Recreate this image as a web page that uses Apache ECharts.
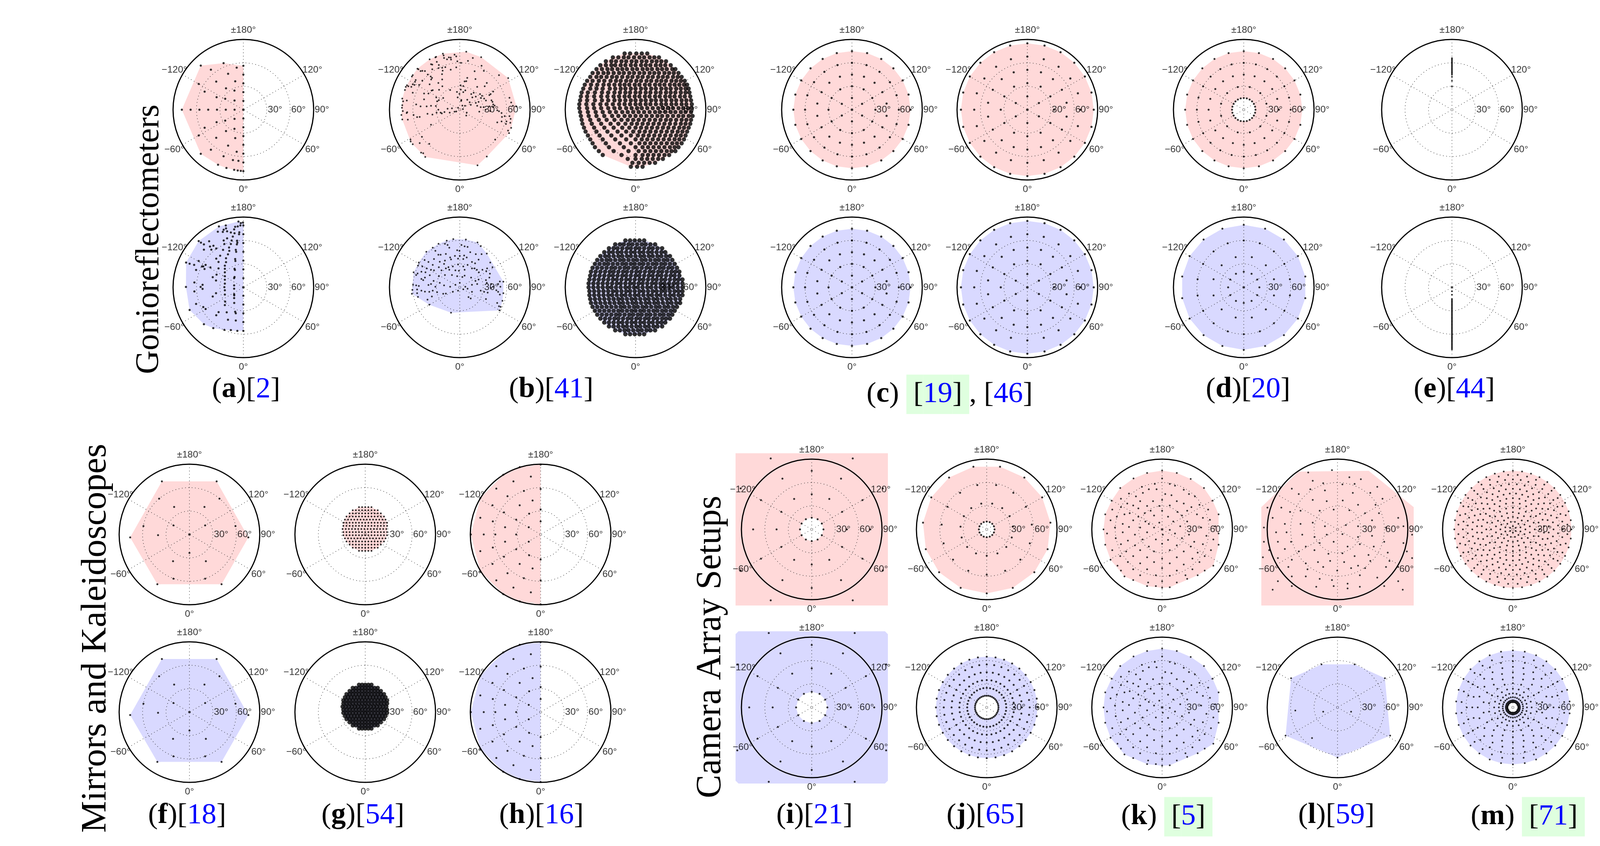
<!DOCTYPE html>
<html><head><meta charset="utf-8">
<script src="https://cdn.jsdelivr.net/npm/echarts@6/dist/echarts.min.js"></script>
<style>html,body{margin:0;padding:0;background:#fff}#c{width:4261px;height:2167px}</style>
</head><body><div id="c"></div>
<script>
// ---------- azimuth lists (degrees) ----------
const AZ60=[0,60,120,180,240,300];
const AZ30=[0,30,60,90,120,150,180,210,240,270,300,330];
const AZ30h=[15,45,75,105,135,165,195,225,255,285,315,345];
const AZ22=[0,22.5,45,67.5,90,112.5,135,157.5,180,202.5,225,247.5,270,292.5,315,337.5];
const AZ24=[0,24,48,72,96,120,144,168,192,216,240,264,288,312,336];
const AZ20=[0,20,40,60,80,100,120,140,160,180,200,220,240,260,280,300,320,340];
const AZ18=[0,18,36,54,72,90,108,126,144,162,180,198,216,234,252,270,288,306,324,342];
const AZ15=[0,15,30,45,60,75,90,105,120,135,150,165,180,195,210,225,240,255,270,285,300,315,330,345];
const AZ12=[0,12,24,36,48,60,72,84,96,108,120,132,144,156,168,180,192,204,216,228,240,252,264,276,288,300,312,324,336,348];
const AZ10=[0,10,20,30,40,50,60,70,80,90,100,110,120,130,140,150,160,170,180,190,200,210,220,230,240,250,260,270,280,290,300,310,320,330,340,350];
const AZ10h=[5,15,25,35,45,55,65,75,85,95,105,115,125,135,145,155,165,175,185,195,205,215,225,235,245,255,265,275,285,295,305,315,325,335,345,355];
const AZ9=[0,9,18,27,36,45,54,63,72,81,90,99,108,117,126,135,144,153,162,171,180,189,198,207,216,225,234,243,252,261,270,279,288,297,306,315,324,333,342,351];
const AZ_NO_AXES=[30,60,120,150,210,240,300,330];

// ---------- tick labels ----------
const ANGLE_TICKS=[[-180,'±180°'],[-120,'−120°'],[-60,'−60°'],[0,'0°'],[60,'60°'],[120,'120°']];
const RADIUS_TICKS=[[30,'30°'],[60,'60°'],[90,'90°']];

// ---------- data: polar [elevation, azimuth] ----------
const aTopPolar=[[0,0],[11.25,180],[22.5,180],[33.75,180],[45,180],[56.25,180],
[11.25,0],[22.5,0],[33.75,0],[45,0],[56.25,0],[67.5,0],[78.75,0],
[11.25,-90],[22.5,-90],[33.75,-90],[45,-90],[56.25,-90],[67.5,-90],[78.75,-90],
[78.5,-136],[64.8,-157],[54.6,-171],[66,-141],[50,-157],[50,-136],[37.8,-164],[66,-120],[35.3,-141],[27,-155],[54.7,-115],[37.8,-115],[27.1,-121],[16.3,-136],
[78.5,-44],[64.8,-23],[54.6,-9],[66,-39],[50,-23],[50,-44],[37.8,-16],[66,-60],[35.3,-39],[27,-25],[54.7,-65],[37.8,-65],[27.1,-59],[16.3,-44],
[65.9,-11.7],[65.8,-5.5],[77.6,-24.7],[77.7,-16.2],[77.9,-8.7],[78.2,-5.3],[78.4,-2.4]];

// ---------- data: projected [x°, y°] (x right, y up; radius = elevation) ----------
const aBotXY=[[0,79.3],[0,68],[0,56.7],[0,45.5],[0,34.3],[0,23],[0,11.8],[0,0],[0,-10.7],[0,-22],[0,-33.2],[0,-44.5],[0,-55.7],[-0.5,83],
[-6.3,84.3],[-3.3,82.2],[-3.8,79.3],[-7.2,78],[-10.5,77.5],[-11.8,74.3],[-5.2,70.5],[-5.5,68],[-11.3,69.2],[-13.5,65],[-8,59.7],[-7.7,57.2],[-8.3,55],[-9.7,48],[-9.2,45.5],[-10.5,36.3],[-10.2,33.8],[-11.3,23.8],[-10.8,22.2],[-11.3,13.3],[-11.8,11.7],[-11.8,2.5],[-11.8,-1.7],[-11.8,-8.7],[-11.7,-10.3],[-11.8,-13.7],[-11.7,-20],[-10.5,-31.2],[-9.7,-33.3],[-9.7,-42.5],
[-23.7,27.7],[-23.7,23.8],[-23.7,19.3],[-23.7,14.3],[-23.7,9.7],[-23.7,4.7],[-24.3,0.2],[-23.7,-3.7],[-23.7,-9.2],[-23.3,-18.3],[-23.7,-22.8],[-21.3,-32],[-19.7,-41.5],[-22.2,32.2],[-22.2,37.2],[-19.7,42.2],[-18,46.7],[-18.3,51],[-20.8,62.7],[-25.2,60],[-24.3,55.5],[-16,55.5],[-15,60],
[-31.3,78],[-22.5,79.3],[-25.2,73.8],[-22.2,75.5],[-32.7,71.3],[-26.3,71],[-20.8,71.8],[-16,70.2],[-43.8,59],[-57.2,59.2],[-54.3,57.2],[-50.5,55],[-42.7,52.2],[-38.3,53.3],[-50.5,48.3],[-41,48.3],[-34.7,49.7],[-26,48],[-29.7,40.5],[-34.7,36.8],[-31.8,32.5],[-57.2,33.8],[-73.3,31.7],[-68.8,30.2],[-63,28.8],[-53,26.8],[-51.3,26.8],[-48.3,28.8],[-49.7,23.5],[-60.5,22.2],[-42.2,25.5],[-31.8,24.3],[-34.3,16.3],[-39.2,13],[-35,8.8],[-62.7,6.3],[-52.2,3.3],[-54.7,0.5],[-73.5,0.5],[-52.2,-2],[-62.7,-5.3],[-35,-7.5],[-39.2,-11.7],[-60.5,-21.2],[-51.3,-25.3],[-48.3,-27.8],[-68.8,-29],[-31.7,-31.7],[-34.7,-35.8],[-50.5,-47.3],[-38.5,-52.3],[-24.3,-54.5],[-16,-54.8],[-7.7,-55.7]];

const b1TopXY=[[8.3,74.2],[-21.6,71.7],[-6.7,70.5],[-4.5,68.3],[10.5,62.5],[16.7,66.2],[27.4,67.2],[-30.3,67.8],[-31.2,67],[-20.7,69.5],[-20.1,66.2],[-16.3,64.5],[-14,67],[-11.6,66.7],[-11.2,64.2],[-38.6,64.5],[-29.4,61.3],[-36.8,58.3],[-35.2,57.8],[-26.8,57.2],[-3.1,62],[1.6,60],[27.9,56.2],[-27.2,53.3],[-22.5,53.8],[-18.5,54.5],[-4.5,54.2],[-11.6,51.2],[-54.2,52.5],[-52.9,51.7],[-50.2,49.5],[-47.9,49.7],[-44.6,49.5],[-35.2,51.7],[-41,45],[-37.2,42.5],[-21.9,50],[-22.7,45.5],[19,49.2],[30.8,49.7],[9.6,40.8],[20.1,39.2],[50.2,44.2],[62,40.5],[-60.2,44.2],[-61.3,42.5],[-56.4,38],[-57.3,35.8],[-60.2,32.5],[-47.9,37.2],[-38.6,32.5],[-27.4,34.3],[-22.5,38.8],[-36.6,38.7],[-35.5,40.8],[-22.3,30],[-36.1,24.5],[-26.5,25.5],[-12.3,25.3],[-3.6,22.8],[1.1,31.3],[4.5,30.3],[6.2,36.3],[8.3,36.5],[1.3,25.7],[4.5,22.5],[7.1,24.7],[-0.4,20.3],[-2.7,15.8],[2,12.5],[1.8,11.2],[9.6,12.8],[14.7,20],[17.8,21.7],[16.1,15.8],[20.5,16.7],[22.3,29.2],[31.9,30],[34.6,34.2],[42.8,23.3],[37.9,18.7],[39.5,20],[25.9,20],[28.5,17.8],[27.2,15],[31.2,14.2],[33.5,11.7],[40.6,12],[41.9,10],[42.8,6.7],[44.6,5.3],[24.1,10],[20.5,8.7],[12.7,9.5],[14.1,6.3],[6.7,5],[22.3,5],[26.8,3.3],[30.6,3.3],[37.9,4.2],[42.4,3.3],[-67.6,31.2],[-69.1,29.2],[-65.8,30],[-70.2,25.3],[-62,29.2],[-60.2,21.7],[-58,31.7],[-52,31.7],[-45.7,20.8],[-40.1,20.8],[-34.6,25],[-30.1,15.8],[-21.2,15],[-26.8,12.2],[-29,10.8],[-67.8,11.7],[-73.6,14.2],[-72.5,10.8],[-73.6,5.8],[-74,2.5],[-72.9,-1.7],[-74.7,-6.7],[-73.6,-12.5],[-68,-4.2],[-67.3,-3.3],[-66.5,-12.8],[-59.1,-6.7],[-55.8,6.7],[-50.2,4.2],[-42.4,4.2],[-36.8,5],[-30.6,4.7],[-45.7,13.3],[-41.3,-5.3],[-35,-6.2],[-29.7,-3.8],[-27.4,0],[-24.5,-3.7],[-23,-4.7],[-19.6,-3],[-15.6,1.3],[-12.9,-3.7],[-10,1.7],[-6.7,-2.5],[-4.5,-2.2],[4,0.8],[8.9,-3.7],[8.3,-7.5],[3.3,5.3],[-2.2,2.5],[25,-2.5],[33,0],[39,-1.7],[48,-0.8],[50.2,-2],[53.5,-4.2],[54,-9.2],[57.5,-8.3],[59.8,-15],[63.6,-8.3],[65.1,-11.7],[48,-16.3],[53.5,-15],[59.1,-18.3],[64.7,-16.7],[63.1,-30],[61.8,-26.7],[65.8,-23.3],[65.8,9.2],[63.6,15.3],[68,5],[72.5,4.2],[-36.8,-19.2],[-48.4,-34.7],[-51.3,-42.8],[-39,-43.7],[-63.1,-38.3],[-62.9,-40.8],[-60.2,-44.2],[-49.5,-55],[-46.8,-55.8],[-44.2,-60.5],[45.3,-38.3],[34.6,-60],[22.7,-71.3],[-54.6,-9.5],[-51.3,-9.2]];

const b1BotXY=[[-8.3,61.7],[7.8,61.2],[-16.7,59.7],[22.7,57.5],[26.8,52.8],[-27.2,55.8],[-19,55.8],[-15.6,54.2],[-13.4,50.8],[2.2,54.2],[6.2,52.5],[10,51.7],[-3.3,47.5],[-0.4,46.7],[-34.6,50.8],[-31.2,46.7],[-42.8,45.5],[-27.4,41.7],[-24.5,41.7],[-17.8,42.8],[-12.3,38.3],[-6.2,40.3],[0,40.3],[5.6,40.8],[8.9,38.3],[13.4,45],[20.5,42.5],[27.9,42.5],[34.6,43.3],[-45,35],[-40.1,32.5],[-33,36.2],[-25.6,32.8],[-19,34.2],[-11.2,35.8],[-2.2,36.7],[4.5,36.2],[15.6,32.5],[19.6,30.8],[24.1,35.5],[39,31.7],[-52.4,31.7],[-53.5,27.8],[-47.9,26.7],[-42.4,24.2],[-34.6,28.8],[-26.8,25.8],[-20.1,30],[-14.5,25.8],[-8.9,26.7],[-2.2,29.2],[4.5,26.7],[10,28.8],[19,24.2],[21.9,22.5],[29,22.5],[35,24.2],[41.9,25.8],[-59.1,19.2],[-54,17.8],[-49.1,20],[-43.9,19.2],[-36.8,22.5],[-33,21.7],[-23.4,21.7],[-17.8,24.2],[-13.4,22.5],[-5.6,21.7],[-1.1,21.2],[6.2,22.5],[15.6,24.2],[24.5,19.2],[33.9,20.8],[38.6,17.5],[-55.8,15.8],[-49.1,10.8],[-44.6,12.5],[-38.4,15.5],[-33.5,8.3],[-26.8,14.2],[-19,15.8],[-10,15.8],[-3.3,14.2],[3.3,13.3],[6.2,15],[14.5,12.5],[20.1,8.3],[24.1,10],[33.5,9.2],[37.9,12.5],[51.3,7.5],[55.8,7.2],[-59.8,3.3],[-55.8,2.5],[-52.4,1.7],[-46.8,9.2],[-40.1,3],[-36.8,4.2],[-31.2,0.8],[-25.6,5.8],[-20.1,2.5],[-12.3,0.8],[-5.6,3.3],[0,5.8],[7.1,0.8],[15.6,3.3],[22.3,4.2],[34.6,5.8],[40.1,4.2],[49.1,4.2],[52,0.8],[-60.7,-3.3],[-54.6,-2.8],[-49.1,-4.2],[-44.6,-5.5],[-39,-5.8],[-34.6,-4.2],[-29,-6.2],[-21.2,-8.3],[-17.8,-8],[-8.9,-5.8],[-2.2,-4.2],[4.5,-2.5],[10,-1.7],[15.6,-5.8],[26.8,-4.2],[31.2,-5.8],[46.8,-3.8],[49.1,-5.8],[51.3,-9.2],[55.8,-7.5],[-61.3,-8.3],[-54.6,-7.5],[-53.5,-12.2],[-35.7,-11.7],[-41.3,-15.8],[-39,-22.2],[-11.2,-32.5],[11.2,-12.5],[14,-14.2],[33.5,-15],[47.9,-20],[50.2,-24.2],[52.4,-25],[54.6,-17.2],[35.7,-6.7],[40.1,-0.8],[42.4,0.8],[50.8,-29.5]];

// dense samples, read row by row: [y°, [x° ...]]
const b2TopRows=[[72,[-14,-7,1,8,15]],[67,[-29,-22,-15,-9,-2,5,11,18,24,30]],[62,[-38,-31,-25,-18,-12,-5,1,8,14,21,27,33,39]],[57,[-45,-38,-31,-26,-19,-13,-6,0,7,13,19,26,32,38,45]],[52,[-50,-43,-36,-30,-23,-17,-11,-4,2,9,15,21,28,34,40,47,51]],[47,[-55,-48,-41,-35,-28,-21,-15,-8,-2,5,11,18,24,30,37,43,49,55]],[42,[-58,-50,-44,-37,-30,-24,-17,-10,-4,3,9,16,22,29,35,41,48,54,59]],[37,[-62,-55,-47,-40,-32,-25,-19,-12,-6,1,7,14,20,27,33,39,46,52,58,63]],[32,[-65,-57,-49,-41,-34,-27,-20,-14,-8,-1,5,12,18,25,31,37,44,50,56,62,66]],[27,[-67,-58,-50,-42,-33,-26,-19,-13,-6,0,7,13,20,26,33,39,45,52,58,64,68]],[22,[-69,-61,-52,-43,-35,-27,-20,-13,-7,0,6,13,19,26,32,39,45,51,58,64,69]],[17,[-70,-62,-53,-44,-36,-28,-21,-14,-8,-1,5,12,18,25,31,38,44,50,57,63,70]],[12,[-71,-62,-52,-43,-35,-27,-20,-13,-6,0,7,13,20,26,33,39,46,52,59,65,71]],[7,[-72,-63,-54,-45,-37,-29,-21,-14,-7,0,6,13,19,26,33,39,46,52,59,65,72]],[2,[-72,-62,-53,-44,-35,-27,-20,-12,-5,2,8,15,22,29,35,42,48,55,61,67,72]],[-3,[-71,-61,-51,-42,-33,-25,-17,-10,-3,4,11,18,25,31,38,45,51,58,64,71]],[-8,[-70,-60,-50,-40,-30,-22,-14,-7,0,7,14,21,28,34,41,48,55,61,68,73]],[-13,[-69,-58,-47,-37,-27,-18,-10,-3,4,11,18,25,32,39,45,52,59,65,71]],[-18,[-68,-56,-44,-32,-22,-13,-5,2,9,16,23,30,37,44,51,58,64,70]],[-23,[-66,-53,-40,-28,-17,-8,0,7,14,21,28,35,42,49,56,62,68]],[-28,[-64,-50,-36,-23,-12,-3,5,12,19,26,33,40,47,54,60,66]],[-33,[-61,-46,-31,-18,-6,3,10,17,24,31,38,45,52,58,64]],[-38,[-58,-42,-26,-12,0,8,15,22,29,36,43,50,56,62]],[-43,[-55,-38,-20,-6,5,12,19,26,33,40,47,53,59]],[-48,[-52,-34,-15,0,9,16,23,30,37,44,50,55]],[-53,[-47,-28,-9,4,12,19,26,33,40,46,51]],[-58,[-42,-18,0,9,16,23,30,37,43]],[-63,[-10,0,8,15,22,29,35]],[-68,[-4,4,11,18,25]],[-73,[-6,2,9]]];
const b2BotRows=[[60,[-13,-7,-1,5,11]],[55,[-26,-20,-15,-9,-4,2,8,13,19,25]],[50,[-34,-28,-23,-17,-11,-6,0,5,11,17,22,28,34]],[45,[-40,-34,-29,-23,-18,-12,-6,-1,5,10,16,21,27,33,38]],[40,[-45,-39,-34,-28,-22,-17,-11,-6,0,6,11,17,22,28,33,39,44]],[35,[-49,-43,-37,-32,-26,-20,-15,-9,-3,2,8,13,19,25,30,36,41,47]],[30,[-52,-46,-40,-35,-29,-23,-17,-12,-6,-1,5,10,16,22,27,33,38,44,50]],[25,[-55,-49,-43,-37,-31,-26,-20,-14,-9,-3,2,8,14,19,25,31,36,42,47,53]],[20,[-57,-51,-45,-39,-33,-28,-22,-16,-11,-5,1,6,12,18,23,29,34,40,46,51,56]],[15,[-58,-52,-46,-40,-34,-29,-23,-17,-12,-6,0,5,11,17,22,28,33,39,45,50,56]],[10,[-59,-53,-47,-41,-35,-29,-24,-18,-12,-7,-1,5,10,16,22,27,33,38,44,50,55,60]],[5,[-60,-54,-48,-42,-36,-30,-24,-19,-13,-7,-2,4,9,15,21,26,32,37,43,49,54,60]],[0,[-60,-54,-48,-42,-36,-31,-25,-19,-13,-8,-2,3,9,15,20,26,32,37,43,48,54,60]],[-5,[-59,-53,-47,-41,-35,-29,-24,-18,-12,-7,-1,5,10,16,22,27,33,38,44,50,55,60]],[-10,[-59,-53,-47,-41,-35,-30,-24,-18,-13,-7,-1,4,10,16,21,27,32,38,44,49,55,60]],[-15,[-58,-52,-46,-40,-34,-28,-22,-17,-11,-5,0,6,12,17,23,28,34,40,45,51,57]],[-20,[-57,-51,-45,-39,-33,-27,-21,-16,-10,-4,1,7,13,18,24,29,35,41,46,52,57]],[-25,[-55,-49,-43,-37,-31,-25,-19,-14,-8,-2,3,9,14,20,26,31,37,42,48,53]],[-30,[-52,-46,-40,-34,-28,-22,-17,-11,-5,0,6,11,17,23,28,34,39,45,50]],[-35,[-49,-43,-37,-31,-25,-20,-14,-8,-3,3,8,14,19,25,31,36,42,47]],[-40,[-45,-39,-33,-27,-22,-16,-10,-5,1,6,12,17,23,28,34,39,44]],[-45,[-40,-34,-28,-22,-17,-11,-5,0,6,11,17,22,28,33,38]],[-50,[-34,-28,-22,-16,-11,-5,1,6,12,17,23,28,34]],[-55,[-26,-20,-14,-9,-3,3,8,14,19,25]],[-60,[-13,-7,-1,5,11]]];

// rings: [elevation, [azimuths]]
const c1Rings=[[0,[0]],[15,AZ60],[30,AZ30],[45,AZ20],[60,AZ18],[75,AZ15]];
const c2Rings=[[0,[0]],[17,AZ60],[34,AZ30],[51,AZ20],[68,AZ18],[85,AZ15]];
const dTopRings=[[15,AZ15],[30,AZ30h],[45,AZ18],[60,AZ15],[75,AZ15]];
const dBotRings=[[0,[0]],[20,AZ30],[40,AZ30h],[60,AZ20],[80,AZ20]];
const eTopRings=[[29.6,[180]],[37,[180]],[42,[180]],[45,[180]],[46.5,[180]],[48,[180]],[49.5,[180]],[51,[180]],[52.5,[180]],[54,[180]],[55.5,[180]],[57,[180]],[58.5,[180]],[60,[180]],[61.5,[180]],[63,[180]],[64.5,[180]],[66,[180]]];
const eBotElev=[0,5,9.5,15,16.5,18,19.5,21,22.5,24,25.5,27,28.5,30,31.5,33,34.5,36,37.5,39,40.5,42,43.5,45,46.5,48,49.5,51,52.5,54,55.5,57,58.5,60,61.5,63,64.5,66,67.5,69,70.5,72,73.5,75,76.5,78,79.5];

const fXY=[[-35.3,68],[34.8,68],[-38.8,45.9],[38.4,45.9],[-19.6,35.2],[19.2,35.2],[-58.9,10.7],[58.9,10.7],[-20.5,11.6],[20.1,11.6],[-75.9,-3.7],[75.4,-3.7],[-40.2,-0.9],[0,0],[0,-23.6],[-21,-34.3],[21,-34.3],[-20.5,-56.6],[20.1,-56.6],[-41.1,-63.7],[41.1,-63.7]];

const gRows=[[35,[-8,-4,0,4,8]],[31,[-16,-12,-8,-4,0,4,8,12,16]],[27,[-20,-16,-12,-8,-4,0,4,8,12,16,20]],[23,[-24,-20,-16,-12,-8,-4,0,4,8,12,16,20,24]],[19,[-26,-22,-18,-14,-10,-6,-2,2,6,10,14,18,22,26]],[15,[-28,-24,-20,-16,-12,-8,-4,0,4,8,12,16,20,24,28]],[11,[-28,-24,-20,-16,-12,-8,-4,0,4,8,12,16,20,24,28]],[7,[-29,-25,-21,-17,-13,-9,-5,-1,3,7,11,15,19,23,27]],[3,[-28,-24,-20,-16,-12,-8,-4,0,4,8,12,16,20,24,28]],[-1,[-28,-24,-20,-16,-12,-8,-4,0,4,8,12,16,20,24,28]],[-5,[-26,-22,-18,-14,-10,-6,-2,2,6,10,14,18,22,26]],[-9,[-24,-20,-16,-12,-8,-4,0,4,8,12,16,20,24]],[-13,[-20,-16,-12,-8,-4,0,4,8,12,16,20]],[-17,[-16,-12,-8,-4,0,4,8,12,16]],[-21,[-8,-4,0,4,8]]];

const hXY=[[0,89.5],[0,-89.5],[-26.8,86.3],[-12.5,74.1],[-47.8,76.5],[-34.8,68],[-56.7,58.8],[0,58.2],[-21.4,55.7],[-42.4,49],[-77.2,46.8],[-10.3,43.5],[-26.8,37.4],[-61.6,37.4],[0,32.1],[-14.7,26.6],[-46.9,28.2],[-31.3,19],[-77.2,21.4],[-61.2,16.8],[-45.5,9.2],[-15.2,9.2],[0,16.8],[-72.8,0],[-58,0],[-31.3,0],[-89.3,0],[-45.5,-9.2],[-15.2,-9.2],[-61.2,-16.8],[-77.2,-21.4],[-31.3,-19],[-14.7,-26.6],[-46.9,-28.5],[0,-32.1],[-61.6,-37.7],[-26.8,-37.7],[-10.3,-43.5],[-42.4,-49.6],[-77.2,-47.5],[0,-58.8],[-56.7,-58.8],[-21.4,-56],[-34.8,-68],[-47.8,-76.5],[-12.5,-74.1],[-26.8,-85.7]];

const iTopRings=[[15,AZ30],[45,AZ30],[75,AZ30],[105,AZ_NO_AXES]];
const iTopOuter=[[145,AZ30]];
const iBotRings=[[20,AZ30],[50,AZ30],[80,AZ30],[110,AZ_NO_AXES]];
const iBotOuter=[[140,AZ30]];
const jTopRings=[[10,AZ22],[33.7,AZ24],[58,AZ24],[82,AZ24]];
const jBotRings=[[15,AZ9],[25,AZ10],[35,AZ10],[45,AZ10],[55,AZ10],[65,AZ10]];

const kXY=[[0,75.3],[-19.2,72.3],[18.8,72.3],[-36.6,65.2],[36.6,64.6],[0,65.2],[-9.4,58.2],[9.8,58.2],[16.5,56],[-25.9,54.5],[-53.6,53],[53.6,53],[-17,51.4],[-7.1,51.4],[27.7,50.8],[-42.4,45.9],[-24.6,46.8],[-33.5,42.3],[4,45.3],[34.4,45.3],[42,42.3],[12,43.8],[-64.7,36.7],[-52.7,39.2],[0,37.7],[-11.6,36.1],[18.8,36.1],[64.7,36.7],[27.7,33.1],[-28.1,36.1],[-44.6,33.1],[-37,30.6],[-19.2,30],[-3.6,30],[9.8,30.6],[37.5,28.5],[47.8,31.5],[-30.4,26.9],[-52.7,28.5],[-63.8,25.4],[-14.7,23.9],[0,23.9],[19.6,22.4],[58.9,25.4],[-22.3,20.8],[-41.5,20.8],[32.1,23.9],[-72.8,19.3],[-48.2,19.3],[-30.4,16.2],[-10.3,17.8],[7.6,16.2],[25.4,17.8],[44.6,19.3],[72.3,19.3],[52.2,14.7],[-58,16.2],[-66,11.6],[-37,11.6],[-21.4,10.1],[-3.6,8.6],[14.3,10.1],[32.1,10.1],[61.2,12.2],[-50.4,7],[-17,7],[-75,0],[-60.3,2.4],[-42.4,3.1],[-28.1,2.4],[-10.3,2.4],[0,0],[9.8,-0.6],[23.2,4],[50,2.4],[67.9,4],[-70.5,-5.2],[-50.4,-3.7],[-34.8,-6.7],[-19.2,-3.7],[0.9,-6.7],[16.5,-5.2],[34.4,-6.7],[56.7,-8.3],[72.3,-5.2],[-59.4,-11.3],[-43.8,-14.4],[-25,-12.9],[-8,-12.9],[7.6,-13.5],[25.4,-11.3],[41.1,-15.9],[65.6,-12.9],[-72.8,-19.6],[-52.7,-19],[-34.8,-20.5],[-17,-22],[0,-18.4],[18.8,-20.5],[36.6,-22],[52.2,-19],[72.3,-19.6],[-63.8,-26.6],[-46,-28.2],[-28.1,-26.6],[-10.3,-28.2],[9.8,-26.6],[27.7,-28.2],[45.5,-29.7],[62.5,-26.6],[-53.6,-34.3],[-37,-34.3],[-19.2,-35.8],[0,-37.4],[18.8,-35.8],[38.8,-37.4],[54.5,-34.3],[-66,-38.9],[-43.8,-41.9],[-28.1,-43.5],[-10.3,-41.9],[9.8,-43.5],[27.7,-45],[47.8,-41.9],[-57.1,-46.5],[65.6,-46.5],[-37,-51.1],[-19.2,-51.1],[0,-49.6],[18.8,-52.7],[38.8,-51.1],[-52.7,-52.7],[54.5,-52.7],[-28.1,-58.8],[-8,-58.8],[9.8,-59.4],[29.9,-58.8],[-37,-64.9],[45.5,-58.8],[-17.9,-68],[0,-66.4],[18.8,-68],[-8,-72.6],[-19.2,-72.6],[9.8,-74.1],[0,-74.7],[32.1,-63.4],[-48.2,-60.3]];

const lTopXY=[[-37.5,72.9],[-7.1,75.9],[15.2,66.7],[29.9,64.3],[-31.7,62.2],[-18.3,59.1],[6.3,57.6],[21.9,58.2],[-58.5,52.1],[-34.8,51.4],[-16.1,49.9],[19.6,46.8],[42,46.8],[50.9,54.5],[-49.6,45.3],[-71.9,27.9],[-89.7,27.9],[6.7,37],[26.3,31.5],[48.7,31.5],[57.6,39.2],[-13.8,36.1],[-31.7,37.7],[-83,14.7],[-60.7,22.4],[-47.3,23.9],[-22.8,23.9],[-4.9,25.4],[15.2,24.5],[35.3,20.8],[53.1,20.8],[77.7,14.7],[-94.2,2.4],[-67.4,7],[-47.3,7],[-31.7,8.6],[-16.1,4],[10.7,5.5],[26.3,4],[44.2,11.6],[62.1,2.4],[84.4,4],[-78.6,-3.7],[-65.2,-3.7],[-45.1,-6.7],[-29.5,-9.8],[-13.8,-6.7],[6.3,-6.1],[26.3,-9.8],[44.2,-8.3],[59.8,-15.9],[95.5,-6.7],[-94.2,-15.9],[-76.3,-15.9],[-59.4,-15.9],[-40.6,-22],[-22.8,-17.5],[-4.9,-15.9],[12.9,-22],[28.6,-19],[46.4,-22],[84.4,-17.5],[-87.5,-26.6],[-67.4,-25.1],[-49.6,-28.2],[-29.5,-26.6],[-11.6,-31.2],[6.3,-30.6],[21.9,-34.3],[39.7,-32.8],[64.3,-29.7],[88.8,-28.2],[-76.3,-36.7],[-58.5,-38.9],[-40.6,-43.5],[-25,-41.9],[-9.4,-40.4],[8.5,-41.9],[26.3,-46.5],[42,-40.4],[66.5,-40.4],[95.5,-36.7],[-62.9,-48.1],[-38.4,-51.1],[-18.3,-48.1],[-0.4,-52.7],[17.4,-49.6],[35.3,-49.6],[62.1,-48.1],[77.7,-48.1],[-76.3,-66.4],[-58.5,-60.3],[-40.6,-60.3],[-22.8,-63.4],[-7.1,-64.9],[12.9,-69.5],[28.6,-58.8],[50.9,-61.8],[77.7,-66.4],[-83,-77.2],[-58.5,-72.6],[-27.2,-73.5],[-4.9,-72.6],[12.9,-75.6],[28.6,-73.5],[59.8,-72.6],[83.5,-77.2],[-95.5,-35.8]];
const lTopOutline=[[-97.5,28.5],[-50,74],[40,75],[97.5,28.5],[100,-112],[-100,-112]];
const lBotXY=[[-20.5,55.1],[21.9,55.1],[-59.4,37.4],[60.7,37.4],[-54,-4],[-18.3,-5.5],[17.4,-5.5],[-66.5,-36.1],[-32.6,-39.2],[67.4,-36.1],[0,-64.3]];

const mTopRings=[[4,AZ60],[10,AZ30h],[16,AZ22],[22,AZ20],[28,AZ18],[34,AZ15],[40,AZ12],[46,AZ10h],[52,AZ10],[58,AZ10h],[64,AZ9],[70,AZ10h],[75,AZ9]];
const mBotRings=[[7,AZ9],[9,AZ9],[13,AZ12],[18,AZ15],[24,AZ18],[31,AZ20],[38,AZ20],[45,AZ18],[52,AZ15],[59,AZ15],[66,AZ12],[73,AZ12]];

// ---------- converters (build library input from the read values) ----------
const fromXY=list=>list.map(([x,y])=>[Math.hypot(x,y),Math.atan2(x,-y)*180/Math.PI]);
const fromRows=rows=>fromXY(rows.flatMap(([y,xs])=>xs.map(x=>[x,y])));
const fromRings=rings=>rings.flatMap(([e,azs])=>azs.map(a=>[e,a]));

const PINK='#ffd9d9', BLUE='#d9d9ff';
const R=180;
const c1=fromRings(c1Rings), c2=fromRings(c2Rings), gP=fromRows(gRows), hP=fromXY(hXY), fP=fromXY(fXY), kP=fromXY(kXY);
const PANELS=[
 {cx:623,cy:281,fill:PINK,pts:aTopPolar,size:5.5},
 {cx:623,cy:736,fill:BLUE,pts:fromXY(aBotXY),size:5.5},
 {cx:1177,cy:281,fill:PINK,pts:fromXY(b1TopXY),size:4.5},
 {cx:1177,cy:736,fill:BLUE,pts:fromXY(b1BotXY),size:4.5},
 {cx:1627,cy:281,fill:PINK,pts:fromRows(b2TopRows),size:11},
 {cx:1627,cy:736,fill:BLUE,pts:fromRows(b2BotRows),size:11.5},
 {cx:2181,cy:281,fill:PINK,pts:c1,size:5.5},
 {cx:2181,cy:736,fill:BLUE,pts:c1,size:5.5},
 {cx:2630,cy:281,fill:PINK,pts:c2,size:5.5},
 {cx:2630,cy:736,fill:BLUE,pts:c2,size:5.5},
 {cx:3184,cy:281,fill:PINK,pts:fromRings(dTopRings),size:5,hole:fromRings([dTopRings[0]])},
 {cx:3184,cy:736,fill:BLUE,pts:fromRings(dBotRings),size:5},
 {cx:3717,cy:281,fill:null,pts:fromRings(eTopRings),size:4.5},
 {cx:3717,cy:736,fill:null,pts:eBotElev.map(e=>[e,0]),size:4.5},
 {cx:485,cy:1369,fill:PINK,pts:fP,size:5},
 {cx:485,cy:1824,fill:BLUE,pts:fP,size:5},
 {cx:935,cy:1369,fill:PINK,pts:gP,size:4.6},
 {cx:935,cy:1824,fill:BLUE,pts:gP,size:11},
 {cx:1384,cy:1369,fill:PINK,pts:hP,size:5},
 {cx:1384,cy:1824,fill:BLUE,pts:hP,size:5},
 {cx:2078,cy:1356,fill:PINK,pts:fromRings(iTopRings),size:5,hull:fromRings(iTopOuter),hole:fromRings([iTopRings[0]])},
 {cx:2078,cy:1812,fill:BLUE,pts:fromRings(iBotRings),size:5,hull:fromRings(iBotOuter),hole:fromRings([iBotRings[0]])},
 {cx:2526,cy:1356,fill:PINK,pts:fromRings(jTopRings),size:5,hole:fromRings([jTopRings[0]])},
 {cx:2526,cy:1812,fill:BLUE,pts:fromRings(jBotRings),size:5,hole:fromRings([jBotRings[0]])},
 {cx:2975,cy:1356,fill:PINK,pts:kP,size:4.5},
 {cx:2975,cy:1812,fill:BLUE,pts:kP,size:4.5},
 {cx:3424,cy:1356,fill:PINK,pts:fromXY(lTopXY),size:4.5,hull:fromXY(lTopOutline)},
 {cx:3424,cy:1812,fill:BLUE,pts:fromXY(lBotXY),size:4.5},
 {cx:3873,cy:1356,fill:PINK,pts:fromRings(mTopRings),size:4.5},
 {cx:3873,cy:1812,fill:BLUE,pts:fromRings(mBotRings),size:4.5,hole:fromRings([mBotRings[0]])}
];

function convexHull(pts){
 const p=pts.map(q=>[q[0],q[1]]).sort((a,b)=>a[0]-b[0]||a[1]-b[1]);
 if(p.length<3) return p;
 const cr=(o,a,b)=>(a[0]-o[0])*(b[1]-o[1])-(a[1]-o[1])*(b[0]-o[0]);
 const lo=[];for(const q of p){while(lo.length>=2&&cr(lo[lo.length-2],lo[lo.length-1],q)<=0)lo.pop();lo.push(q);}
 const up=[];for(let i=p.length-1;i>=0;i--){const q=p[i];while(up.length>=2&&cr(up[up.length-2],up[up.length-1],q)<=0)up.pop();up.push(q);}
 up.pop();lo.pop();return lo.concat(up);
}
function clipRect(poly,x0,y0,x1,y1){
 const E=[[q=>q[0]>=x0,(a,b)=>[x0,a[1]+(x0-a[0])/(b[0]-a[0])*(b[1]-a[1])]],
          [q=>q[0]<=x1,(a,b)=>[x1,a[1]+(x1-a[0])/(b[0]-a[0])*(b[1]-a[1])]],
          [q=>q[1]>=y0,(a,b)=>[a[0]+(y0-a[1])/(b[1]-a[1])*(b[0]-a[0]),y0]],
          [q=>q[1]<=y1,(a,b)=>[a[0]+(y1-a[1])/(b[1]-a[1])*(b[0]-a[0]),y1]]];
 let out=poly;
 for(const [ins,it] of E){const inp=out;out=[];
  for(let i=0;i<inp.length;i++){const cur=inp[i],prev=inp[(i+inp.length-1)%inp.length];
   if(ins(cur)){if(!ins(prev))out.push(it(prev,cur));out.push(cur);} else if(ins(prev)) out.push(it(prev,cur));}}
 return out;
}

const dotted={color:'#000',width:1.4,type:[1.4,7]};
const series=[];
PANELS.forEach((p,i)=>{
 if(p.fill){
  series.push({type:'custom',coordinateSystem:'polar',polarIndex:i,z:1,silent:true,clip:false,data:[[0,0]],
   renderItem:(params,api)=>{
     const cs=params.coordSys;
     const base=(p.hull||p.pts).map(d=>api.coord(d));
     const h=1.0833*cs.r;
     const poly=clipRect(convexHull(base),cs.cx-h,cs.cy-h,cs.cx+h,cs.cy+h);
     const ch=[{type:'polygon',shape:{points:poly},style:{fill:p.fill}}];
     if(p.hole){ch.push({type:'polygon',shape:{points:convexHull(p.hole.map(d=>api.coord(d)))},style:{fill:'#fff'}});}
     return {type:'group',children:ch};
   }});
 }
 series.push({type:'scatter',coordinateSystem:'polar',polarIndex:i,z:5,silent:true,clip:false,symbol:'circle',symbolSize:p.size,
   itemStyle:{color:'#000'},data:p.pts});
 series.push({type:'scatter',coordinateSystem:'polar',polarIndex:i,z:6,silent:true,clip:false,symbolSize:1,itemStyle:{color:'rgba(0,0,0,0)'},
   label:{show:true,position:'inside',formatter:'{b}',color:'#000',fontSize:24.5,fontFamily:'Liberation Sans'},
   data:ANGLE_TICKS.map(([a,t])=>({name:t,value:[102,a]}))});
 series.push({type:'scatter',coordinateSystem:'polar',polarIndex:i,z:6,silent:true,clip:false,symbolSize:1,itemStyle:{color:'rgba(0,0,0,0)'},
   label:{show:true,position:'right',distance:2,formatter:'{b}',color:'#000',fontSize:24.5,fontFamily:'Liberation Sans'},
   data:RADIUS_TICKS.map(([r,t])=>({name:t,value:[r,90]}))});
});

const SERIF='"Liberation Serif","Times New Roman",serif';
const GREEN='#dfffdf';
const FS=75, LH=75;
const rich={
 n:{fontFamily:SERIF,fontSize:FS,fill:'#000',lineHeight:LH},
 b:{fontFamily:SERIF,fontSize:FS,fill:'#000',fontWeight:'bold',lineHeight:LH},
 u:{fontFamily:SERIF,fontSize:FS,fill:'#0000ff',lineHeight:LH},
 gl:{fontFamily:SERIF,fontSize:FS,fill:'#000',lineHeight:LH,backgroundColor:GREEN,padding:[13,0,13,18]},
 gu:{fontFamily:SERIF,fontSize:FS,fill:'#0000ff',lineHeight:LH,backgroundColor:GREEN,padding:[13,0,13,0]},
 gr:{fontFamily:SERIF,fontSize:FS,fill:'#000',lineHeight:LH,backgroundColor:GREEN,padding:[13,18,13,0]}
};
const CAPTIONS=[
 [630,998,'{n|(}{b|a}{n|)[}{u|2}{n|]}'],
 [1411,998,'{n|(}{b|b}{n|)[}{u|41}{n|]}'],
 [2431,1010,'{n|(}{b|c}{n|) }{gl|[}{gu|19}{gr|]}{n|, [}{u|46}{n|]}'],
 [3195,998,'{n|(}{b|d}{n|)[}{u|20}{n|]}'],
 [3723,998,'{n|(}{b|e}{n|)[}{u|44}{n|]}'],
 [479,2089,'{n|(}{b|f}{n|)[}{u|18}{n|]}'],
 [929,2089,'{n|(}{b|g}{n|)[}{u|54}{n|]}'],
 [1386,2089,'{n|(}{b|h}{n|)[}{u|16}{n|]}'],
 [2085,2089,'{n|(}{b|i}{n|)[}{u|21}{n|]}'],
 [2523,2089,'{n|(}{b|j}{n|)[}{u|65}{n|]}'],
 [2987,2092,'{n|(}{b|k}{n|) }{gl|[}{gu|5}{gr|]}'],
 [3421,2089,'{n|(}{b|l}{n|)[}{u|59}{n|]}'],
 [3911,2092,'{n|(}{b|m}{n|) }{gl|[}{gu|71}{gr|]}']
];
const TITLES=[[383,613,84,'Gonioreflectometers'],[246,1635,92,'Mirrors and Kaleidoscopes'],[1820,1657,90,'Camera Array Setups']];
const graphic=[
 ...CAPTIONS.map(([x,y,t])=>({type:'text',x,y,z:10,style:{text:t,rich,align:'center',verticalAlign:'middle'}})),
 ...TITLES.map(([x,y,fs,t])=>({type:'text',x,y,rotation:Math.PI/2,z:10,style:{text:t,fill:'#000',font:fs+'px '+SERIF,align:'center',verticalAlign:'middle'}}))
];

const chart=echarts.init(document.getElementById('c'),null,{renderer:'canvas'});
chart.setOption({
 animation:false,backgroundColor:'#fff',
 polar:PANELS.map(p=>({center:[p.cx,p.cy],radius:R})),
 angleAxis:PANELS.map((p,i)=>({polarIndex:i,type:'value',min:-180,max:180,interval:60,startAngle:90,clockwise:false,z:3,
   axisLine:{show:true,lineStyle:{color:'#000',width:3}},axisTick:{show:false},axisLabel:{show:false},
   splitLine:{show:true,lineStyle:dotted}})),
 radiusAxis:PANELS.map((p,i)=>({polarIndex:i,type:'value',min:0,max:90,interval:30,z:3,
   axisLine:{show:false},axisTick:{show:false},axisLabel:{show:false},splitLine:{show:true,lineStyle:dotted}})),
 series,graphic
});
</script></body></html>
